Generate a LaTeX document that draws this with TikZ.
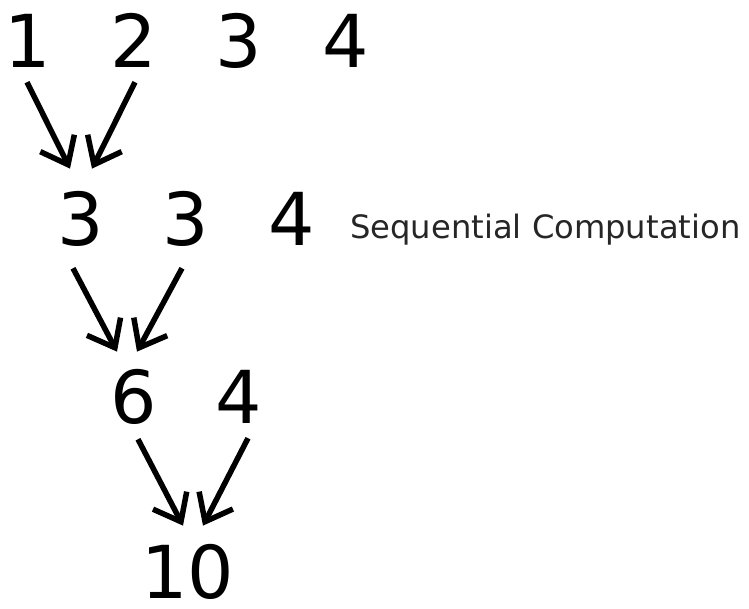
\documentclass[tikz,border=0pt]{standalone}
\usepackage{fontspec}
\setmainfont{DejaVu Sans}
\usetikzlibrary{arrows.meta}
\begin{document}
\begin{tikzpicture}[x=1pt,y=-1pt,
  num/.style={inner sep=0pt, anchor=base, font=\fontsize{73}{80}\selectfont},
  lbl/.style={inner sep=0pt, anchor=base west, text=black!85, font=\fontsize{32.2}{36}\selectfont},
  arr/.style={line width=5.5pt, -{Straight Barb[length=24pt,width=38pt,line width=5.5pt]}}]
\useasboundingbox (0,0) rectangle (749,608);
% row 1
\node[num] (n1) at (28,67) {1};
\node[num] (n2) at (134,67) {2};
\node[num] (n3) at (239,67) {3};
\node[num] (n4) at (346,67) {4};
% row 2
\node[num] (m1) at (81,245) {3};
\node[num] (m2) at (186,245) {3};
\node[num] (m3) at (292,245) {4};
\node[lbl] (lab) at (350,238) {Sequential Computation};
% row 3
\node[num] (p1) at (134,423) {6};
\node[num] (p2) at (239,423) {4};
% row 4
\node[num] (q) at (188,598) {10};
% arrows
\draw[arr] ([xshift=-1pt,yshift=-15pt]n1.south) -- ([xshift=-11pt,yshift=22pt]m1.north);
\draw[arr] ([xshift=1pt,yshift=-15pt]n2.south) -- ([xshift=11pt,yshift=22pt]m1.north);
\draw[arr] ([xshift=-8pt,yshift=-22pt]m1.south) -- ([xshift=-17pt,yshift=17pt]p1.north);
\draw[arr] ([xshift=-4pt,yshift=-22pt]m2.south) -- ([xshift=3pt,yshift=17pt]p1.north);
\draw[arr] ([xshift=4pt,yshift=-15pt]p1.south) -- ([xshift=-5pt,yshift=18pt]q.north);
\draw[arr] ([xshift=9pt,yshift=-15pt]p2.south) -- ([xshift=15pt,yshift=18pt]q.north);
\end{tikzpicture}
\end{document}
